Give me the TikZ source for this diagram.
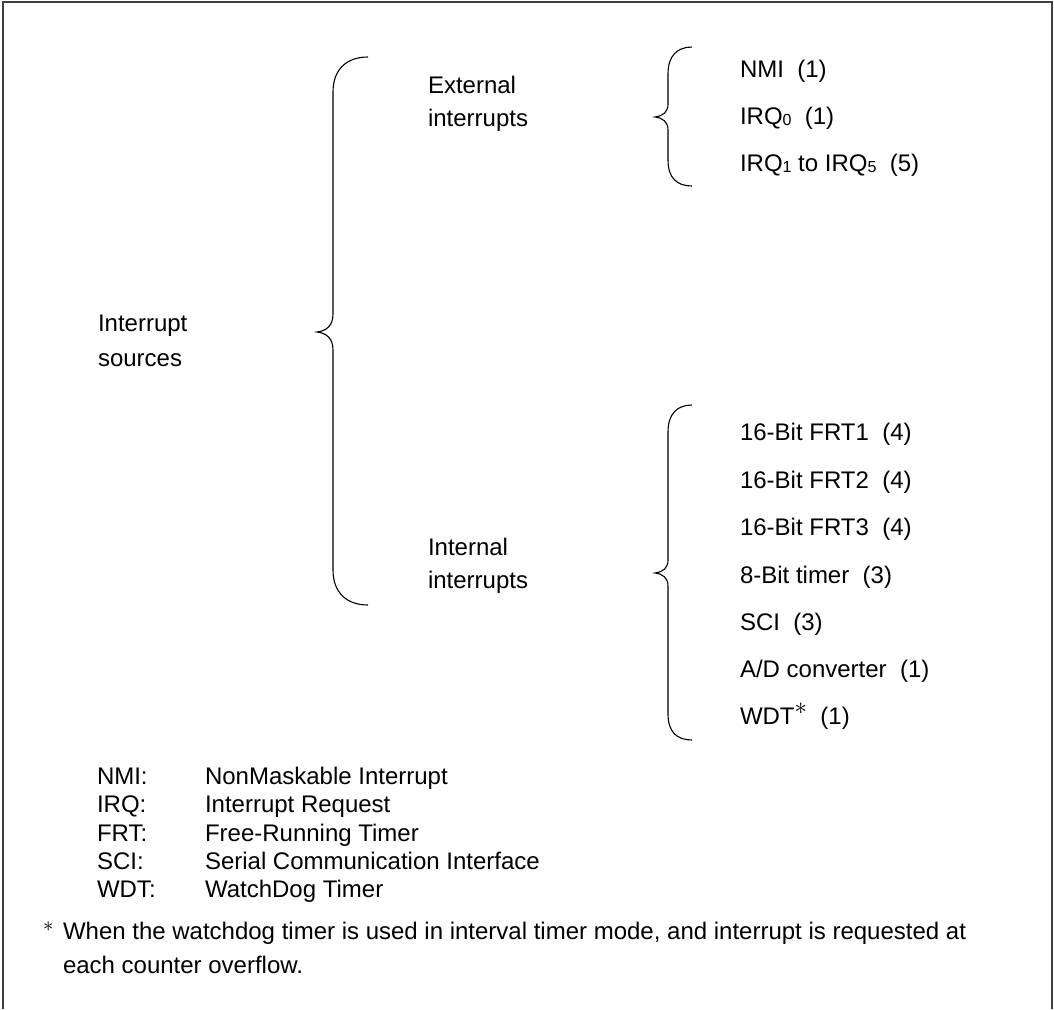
\documentclass[tikz,border=0pt]{standalone}
\usepackage{fontspec}
\setmainfont{Liberation Sans}
\newcommand\smalldigit[1]{\raisebox{-1pt}{\fontsize{16}{16}\selectfont #1}}
\newcommand\supstar{{\fontsize{26}{26}\selectfont\raisebox{10pt}{$\ast$}}}
\begin{document}
\begin{tikzpicture}[x=1pt,y=-1pt,
  every node/.style={inner sep=0pt, outer sep=0pt, anchor=base west, font=\fontsize{24}{34}\selectfont},
  brace/.style={line width=1.1pt, black},
  frame/.style={line width=1.6pt, black!75}]
\useasboundingbox (0,0) rectangle (1054,1009);
\draw[frame] (3,1009) -- (3,2) -- (1052,2) -- (1052,1009);

% big brace
\draw[brace] (368,57) .. controls (346,57) and (333,70) .. (333,92) -- (333,314)
  .. controls (333,326) and (326,331) .. (317,332)
  .. controls (326,333) and (333,338) .. (333,350) -- (333,570)
  .. controls (333,592) and (346,605) .. (368,605);
% small brace external
\draw[brace] (692,47) .. controls (677,47) and (668,56) .. (668,74) -- (668,104)
  .. controls (668,112) and (663,116) .. (655,117)
  .. controls (663,118) and (668,122) .. (668,130) -- (668,160)
  .. controls (668,178) and (677,186) .. (692,186);
% small brace internal
\draw[brace] (692,405) .. controls (677,405) and (668,414) .. (668,432) -- (668,560)
  .. controls (668,568) and (663,572) .. (655,573)
  .. controls (663,574) and (668,578) .. (668,586) -- (668,714)
  .. controls (668,732) and (677,740) .. (692,740);

\node (src1) at (98,331) {Interrupt};
\node (src2) at (98,366) {sources};
\node (ext1) at (428,93) {External};
\node (ext2) at (428,126) {interrupts};
\node (int1) at (428,555) {Internal};
\node (int2) at (428,588) {interrupts};

\node (e1) at (740,77) {NMI\ \ (1)};
\node (e2) at (740,124) {IRQ\smalldigit{0}\ \ (1)};
\node (e3) at (740,171) {IRQ\smalldigit{1} to IRQ\smalldigit{5}\ \ (5)};

\node (i1) at (740,440) {16-Bit FRT1\ \ (4)};
\node (i2) at (740,488) {16-Bit FRT2\ \ (4)};
\node (i3) at (740,535) {16-Bit FRT3\ \ (4)};
\node (i4) at (740,583) {8-Bit timer\ \ (3)};
\node (i5) at (740,630) {SCI\ \ (3)};
\node (i6) at (740,677) {A/D converter\ \ (1)};
\node (i7) at (740,724) {WDT\supstar\ \ (1)};

\node (la1) at (97,784) {NMI:};
\node (la2) at (97,812) {IRQ:};
\node (la3) at (97,841) {FRT:};
\node (la4) at (97,869) {SCI:};
\node (la5) at (97,897) {WDT:};
\node (lb1) at (205,784) {NonMaskable Interrupt};
\node (lb2) at (205,812) {Interrupt Request};
\node (lb3) at (205,841) {Free-Running Timer};
\node (lb4) at (205,869) {Serial Communication Interface};
\node (lb5) at (205,897) {WatchDog Timer};

\node (fs) at (43,936) {{\fontsize{20}{20}\selectfont\raisebox{5pt}{$\ast$}}};
\node (f1) at (63,939) {When the watchdog timer is used in interval timer mode, and interrupt is requested at};
\node (f2) at (63,973) {each counter overflow.};
\end{tikzpicture}
\end{document}
